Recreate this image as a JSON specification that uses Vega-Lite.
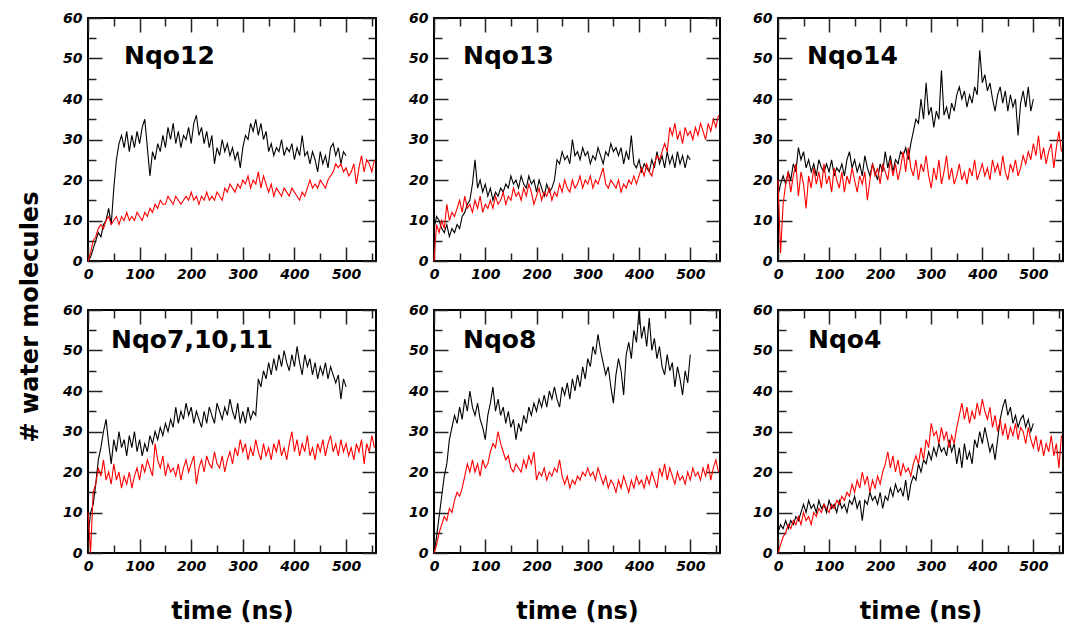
{
"$schema":"https://vega.github.io/schema/vega-lite/v6.json",
"padding":{"left":18,"top":10,"right":5,"bottom":0},
"title":{"text":"# water molecules","orient":"left","anchor":"middle","font":"DejaVu Sans","fontSize":24,"fontWeight":"bold","color":"black","offset":19},
"datasets":{
"b1":[{"t":0,"v":0},{"t":5,"v":1},{"t":10,"v":3},{"t":15,"v":5},{"t":20,"v":7},{"t":25,"v":6},{"t":30,"v":9},{"t":35,"v":10},{"t":40,"v":13},{"t":45,"v":9},
{"t":50,"v":18},{"t":55,"v":25},{"t":60,"v":29},{"t":65,"v":31},{"t":70,"v":28},{"t":75,"v":32},{"t":80,"v":27},{"t":85,"v":31},{"t":90,"v":28},{"t":95,"v":32},
{"t":100,"v":29},{"t":105,"v":33},{"t":110,"v":35},{"t":115,"v":28},{"t":120,"v":21},{"t":125,"v":27},{"t":130,"v":25},{"t":135,"v":29},{"t":140,"v":27},{"t":145,"v":31},
{"t":150,"v":28},{"t":155,"v":33},{"t":160,"v":30},{"t":165,"v":34},{"t":170,"v":29},{"t":175,"v":32},{"t":180,"v":28},{"t":185,"v":31},{"t":190,"v":30},{"t":195,"v":33},
{"t":200,"v":29},{"t":205,"v":34},{"t":210,"v":36},{"t":215,"v":31},{"t":220,"v":33},{"t":225,"v":29},{"t":230,"v":32},{"t":235,"v":28},{"t":240,"v":31},{"t":245,"v":24},
{"t":250,"v":28},{"t":255,"v":26},{"t":260,"v":30},{"t":265,"v":27},{"t":270,"v":29},{"t":275,"v":26},{"t":280,"v":28},{"t":285,"v":25},{"t":290,"v":27},{"t":295,"v":23},
{"t":300,"v":28},{"t":305,"v":31},{"t":310,"v":30},{"t":315,"v":34},{"t":320,"v":32},{"t":325,"v":35},{"t":330,"v":31},{"t":335,"v":34},{"t":340,"v":30},{"t":345,"v":32},
{"t":350,"v":27},{"t":355,"v":29},{"t":360,"v":26},{"t":365,"v":28},{"t":370,"v":27},{"t":375,"v":30},{"t":380,"v":26},{"t":385,"v":28},{"t":390,"v":27},{"t":395,"v":29},
{"t":400,"v":25},{"t":405,"v":28},{"t":410,"v":26},{"t":415,"v":31},{"t":420,"v":26},{"t":425,"v":27},{"t":430,"v":24},{"t":435,"v":27},{"t":440,"v":25},{"t":445,"v":22},
{"t":450,"v":27},{"t":455,"v":24},{"t":460,"v":26},{"t":465,"v":23},{"t":470,"v":28},{"t":475,"v":29},{"t":480,"v":26},{"t":485,"v":28},{"t":490,"v":24},{"t":495,"v":27},
{"t":500,"v":26}],
"r1":[{"t":0,"v":0},{"t":5,"v":2},{"t":10,"v":5},{"t":15,"v":6},{"t":20,"v":8},{"t":25,"v":9},{"t":30,"v":8},{"t":35,"v":10},{"t":40,"v":11},{"t":45,"v":9},
{"t":50,"v":10},{"t":55,"v":11},{"t":60,"v":9},{"t":65,"v":11},{"t":70,"v":10},{"t":75,"v":12},{"t":80,"v":10},{"t":85,"v":11},{"t":90,"v":10},{"t":95,"v":12},
{"t":100,"v":11},{"t":105,"v":10},{"t":110,"v":12},{"t":115,"v":11},{"t":120,"v":13},{"t":125,"v":12},{"t":130,"v":14},{"t":135,"v":13},{"t":140,"v":15},{"t":145,"v":14},
{"t":150,"v":14},{"t":155,"v":16},{"t":160,"v":15},{"t":165,"v":14},{"t":170,"v":16},{"t":175,"v":15},{"t":180,"v":14},{"t":185,"v":15},{"t":190,"v":16},{"t":195,"v":15},
{"t":200,"v":17},{"t":205,"v":15},{"t":210,"v":16},{"t":215,"v":14},{"t":220,"v":16},{"t":225,"v":15},{"t":230,"v":17},{"t":235,"v":15},{"t":240,"v":16},{"t":245,"v":15},
{"t":250,"v":17},{"t":255,"v":16},{"t":260,"v":15},{"t":265,"v":18},{"t":270,"v":17},{"t":275,"v":19},{"t":280,"v":18},{"t":285,"v":17},{"t":290,"v":19},{"t":295,"v":18},
{"t":300,"v":20},{"t":305,"v":19},{"t":310,"v":21},{"t":315,"v":18},{"t":320,"v":20},{"t":325,"v":19},{"t":330,"v":22},{"t":335,"v":18},{"t":340,"v":21},{"t":345,"v":19},
{"t":350,"v":17},{"t":355,"v":19},{"t":360,"v":16},{"t":365,"v":18},{"t":370,"v":17},{"t":375,"v":16},{"t":380,"v":18},{"t":385,"v":17},{"t":390,"v":16},{"t":395,"v":18},
{"t":400,"v":17},{"t":405,"v":16},{"t":410,"v":15},{"t":415,"v":17},{"t":420,"v":16},{"t":425,"v":18},{"t":430,"v":20},{"t":435,"v":18},{"t":440,"v":19},{"t":445,"v":18},
{"t":450,"v":20},{"t":455,"v":19},{"t":460,"v":18},{"t":465,"v":20},{"t":470,"v":21},{"t":475,"v":22},{"t":480,"v":24},{"t":485,"v":23},{"t":490,"v":24},{"t":495,"v":22},
{"t":500,"v":23},{"t":505,"v":21},{"t":510,"v":22},{"t":515,"v":24},{"t":520,"v":19},{"t":525,"v":23},{"t":530,"v":26},{"t":535,"v":22},{"t":540,"v":25},{"t":545,"v":24},
{"t":550,"v":22},{"t":555,"v":25}],
"b2":[{"t":0,"v":8},{"t":5,"v":11},{"t":10,"v":10},{"t":15,"v":8},{"t":20,"v":7},{"t":25,"v":9},{"t":30,"v":6},{"t":35,"v":8},{"t":40,"v":7},{"t":45,"v":9},
{"t":50,"v":8},{"t":55,"v":11},{"t":60,"v":12},{"t":65,"v":14},{"t":70,"v":15},{"t":75,"v":19},{"t":80,"v":25},{"t":85,"v":18},{"t":90,"v":20},{"t":95,"v":17},
{"t":100,"v":19},{"t":105,"v":16},{"t":110,"v":18},{"t":115,"v":15},{"t":120,"v":17},{"t":125,"v":16},{"t":130,"v":18},{"t":135,"v":17},{"t":140,"v":19},{"t":145,"v":18},
{"t":150,"v":21},{"t":155,"v":19},{"t":160,"v":20},{"t":165,"v":18},{"t":170,"v":21},{"t":175,"v":19},{"t":180,"v":18},{"t":185,"v":21},{"t":190,"v":19},{"t":195,"v":20},
{"t":200,"v":17},{"t":205,"v":20},{"t":210,"v":18},{"t":215,"v":16},{"t":220,"v":19},{"t":225,"v":17},{"t":230,"v":18},{"t":235,"v":20},{"t":240,"v":25},{"t":245,"v":24},
{"t":250,"v":27},{"t":255,"v":25},{"t":260,"v":26},{"t":265,"v":24},{"t":270,"v":30},{"t":275,"v":26},{"t":280,"v":27},{"t":285,"v":25},{"t":290,"v":28},{"t":295,"v":26},
{"t":300,"v":27},{"t":305,"v":24},{"t":310,"v":26},{"t":315,"v":25},{"t":320,"v":28},{"t":325,"v":26},{"t":330,"v":24},{"t":335,"v":27},{"t":340,"v":26},{"t":345,"v":29},
{"t":350,"v":27},{"t":355,"v":28},{"t":360,"v":26},{"t":365,"v":28},{"t":370,"v":24},{"t":375,"v":27},{"t":380,"v":25},{"t":385,"v":31},{"t":390,"v":24},{"t":395,"v":23},
{"t":400,"v":25},{"t":405,"v":22},{"t":410,"v":24},{"t":415,"v":23},{"t":420,"v":22},{"t":425,"v":25},{"t":430,"v":23},{"t":435,"v":27},{"t":440,"v":24},{"t":445,"v":26},
{"t":450,"v":23},{"t":455,"v":27},{"t":460,"v":24},{"t":465,"v":26},{"t":470,"v":23},{"t":475,"v":27},{"t":480,"v":24},{"t":485,"v":26},{"t":490,"v":23},{"t":495,"v":26},
{"t":500,"v":25}],
"r2":[{"t":0,"v":0},{"t":5,"v":9},{"t":10,"v":7},{"t":15,"v":10},{"t":20,"v":8},{"t":25,"v":14},{"t":30,"v":10},{"t":35,"v":12},{"t":40,"v":11},{"t":45,"v":13},
{"t":50,"v":15},{"t":55,"v":12},{"t":60,"v":16},{"t":65,"v":13},{"t":70,"v":14},{"t":75,"v":12},{"t":80,"v":15},{"t":85,"v":13},{"t":90,"v":16},{"t":95,"v":12},
{"t":100,"v":14},{"t":105,"v":13},{"t":110,"v":15},{"t":115,"v":13},{"t":120,"v":16},{"t":125,"v":14},{"t":130,"v":15},{"t":135,"v":17},{"t":140,"v":14},{"t":145,"v":16},
{"t":150,"v":15},{"t":155,"v":18},{"t":160,"v":16},{"t":165,"v":17},{"t":170,"v":15},{"t":175,"v":18},{"t":180,"v":16},{"t":185,"v":19},{"t":190,"v":17},{"t":195,"v":14},
{"t":200,"v":16},{"t":205,"v":18},{"t":210,"v":15},{"t":215,"v":17},{"t":220,"v":16},{"t":225,"v":18},{"t":230,"v":15},{"t":235,"v":17},{"t":240,"v":16},{"t":245,"v":19},
{"t":250,"v":17},{"t":255,"v":20},{"t":260,"v":18},{"t":265,"v":17},{"t":270,"v":20},{"t":275,"v":18},{"t":280,"v":19},{"t":285,"v":21},{"t":290,"v":18},{"t":295,"v":20},
{"t":300,"v":19},{"t":305,"v":21},{"t":310,"v":18},{"t":315,"v":20},{"t":320,"v":19},{"t":325,"v":21},{"t":330,"v":23},{"t":335,"v":19},{"t":340,"v":18},{"t":345,"v":20},
{"t":350,"v":19},{"t":355,"v":18},{"t":360,"v":20},{"t":365,"v":17},{"t":370,"v":19},{"t":375,"v":18},{"t":380,"v":20},{"t":385,"v":19},{"t":390,"v":21},{"t":395,"v":19},
{"t":400,"v":21},{"t":405,"v":23},{"t":410,"v":21},{"t":415,"v":24},{"t":420,"v":22},{"t":425,"v":21},{"t":430,"v":24},{"t":435,"v":26},{"t":440,"v":25},{"t":445,"v":27},
{"t":450,"v":29},{"t":455,"v":27},{"t":460,"v":33},{"t":465,"v":31},{"t":470,"v":34},{"t":475,"v":30},{"t":480,"v":32},{"t":485,"v":29},{"t":490,"v":33},{"t":495,"v":31},
{"t":500,"v":32},{"t":505,"v":30},{"t":510,"v":33},{"t":515,"v":31},{"t":520,"v":34},{"t":525,"v":32},{"t":530,"v":30},{"t":535,"v":34},{"t":540,"v":32},{"t":545,"v":35},
{"t":550,"v":33},{"t":555,"v":36}],
"b3":[{"t":0,"v":16},{"t":5,"v":19},{"t":10,"v":21},{"t":15,"v":19},{"t":20,"v":22},{"t":25,"v":20},{"t":30,"v":24},{"t":35,"v":22},{"t":40,"v":28},{"t":45,"v":25},
{"t":50,"v":27},{"t":55,"v":23},{"t":60,"v":25},{"t":65,"v":22},{"t":70,"v":24},{"t":75,"v":21},{"t":80,"v":25},{"t":85,"v":23},{"t":90,"v":22},{"t":95,"v":24},
{"t":100,"v":22},{"t":105,"v":25},{"t":110,"v":21},{"t":115,"v":23},{"t":120,"v":22},{"t":125,"v":24},{"t":130,"v":21},{"t":135,"v":25},{"t":140,"v":27},{"t":145,"v":23},
{"t":150,"v":25},{"t":155,"v":22},{"t":160,"v":24},{"t":165,"v":21},{"t":170,"v":26},{"t":175,"v":23},{"t":180,"v":21},{"t":185,"v":24},{"t":190,"v":22},{"t":195,"v":20},
{"t":200,"v":24},{"t":205,"v":22},{"t":210,"v":27},{"t":215,"v":23},{"t":220,"v":26},{"t":225,"v":22},{"t":230,"v":25},{"t":235,"v":24},{"t":240,"v":27},{"t":245,"v":26},
{"t":250,"v":28},{"t":255,"v":25},{"t":260,"v":29},{"t":265,"v":32},{"t":270,"v":35},{"t":275,"v":34},{"t":280,"v":40},{"t":285,"v":35},{"t":290,"v":44},{"t":295,"v":36},
{"t":300,"v":38},{"t":305,"v":33},{"t":310,"v":37},{"t":315,"v":35},{"t":320,"v":47},{"t":325,"v":36},{"t":330,"v":38},{"t":335,"v":35},{"t":340,"v":39},{"t":345,"v":37},
{"t":350,"v":41},{"t":355,"v":43},{"t":360,"v":40},{"t":365,"v":42},{"t":370,"v":38},{"t":375,"v":41},{"t":380,"v":39},{"t":385,"v":43},{"t":390,"v":41},{"t":395,"v":52},
{"t":400,"v":44},{"t":405,"v":46},{"t":410,"v":42},{"t":415,"v":44},{"t":420,"v":40},{"t":425,"v":37},{"t":430,"v":41},{"t":435,"v":43},{"t":440,"v":39},{"t":445,"v":42},
{"t":450,"v":37},{"t":455,"v":41},{"t":460,"v":38},{"t":465,"v":40},{"t":470,"v":31},{"t":475,"v":39},{"t":480,"v":42},{"t":485,"v":38},{"t":490,"v":43},{"t":495,"v":37},
{"t":500,"v":40}],
"r3":[{"t":0,"v":20},{"t":5,"v":2},{"t":10,"v":14},{"t":15,"v":19},{"t":20,"v":22},{"t":25,"v":17},{"t":30,"v":21},{"t":35,"v":24},{"t":40,"v":16},{"t":45,"v":22},
{"t":50,"v":19},{"t":55,"v":13},{"t":60,"v":21},{"t":65,"v":18},{"t":70,"v":23},{"t":75,"v":19},{"t":80,"v":22},{"t":85,"v":18},{"t":90,"v":24},{"t":95,"v":19},
{"t":100,"v":21},{"t":105,"v":17},{"t":110,"v":23},{"t":115,"v":20},{"t":120,"v":18},{"t":125,"v":22},{"t":130,"v":17},{"t":135,"v":21},{"t":140,"v":19},{"t":145,"v":23},
{"t":150,"v":20},{"t":155,"v":17},{"t":160,"v":21},{"t":165,"v":19},{"t":170,"v":22},{"t":175,"v":15},{"t":180,"v":20},{"t":185,"v":24},{"t":190,"v":21},{"t":195,"v":23},
{"t":200,"v":19},{"t":205,"v":24},{"t":210,"v":22},{"t":215,"v":20},{"t":220,"v":25},{"t":225,"v":21},{"t":230,"v":24},{"t":235,"v":20},{"t":240,"v":23},{"t":245,"v":27},
{"t":250,"v":22},{"t":255,"v":28},{"t":260,"v":23},{"t":265,"v":21},{"t":270,"v":25},{"t":275,"v":20},{"t":280,"v":24},{"t":285,"v":22},{"t":290,"v":26},{"t":295,"v":21},
{"t":300,"v":18},{"t":305,"v":23},{"t":310,"v":20},{"t":315,"v":25},{"t":320,"v":19},{"t":325,"v":22},{"t":330,"v":26},{"t":335,"v":20},{"t":340,"v":23},{"t":345,"v":19},
{"t":350,"v":21},{"t":355,"v":24},{"t":360,"v":20},{"t":365,"v":22},{"t":370,"v":19},{"t":375,"v":23},{"t":380,"v":21},{"t":385,"v":25},{"t":390,"v":20},{"t":395,"v":22},
{"t":400,"v":24},{"t":405,"v":21},{"t":410,"v":23},{"t":415,"v":20},{"t":420,"v":25},{"t":425,"v":22},{"t":430,"v":24},{"t":435,"v":21},{"t":440,"v":26},{"t":445,"v":22},
{"t":450,"v":20},{"t":455,"v":24},{"t":460,"v":22},{"t":465,"v":25},{"t":470,"v":21},{"t":475,"v":23},{"t":480,"v":26},{"t":485,"v":24},{"t":490,"v":27},{"t":495,"v":25},
{"t":500,"v":29},{"t":505,"v":26},{"t":510,"v":31},{"t":515,"v":25},{"t":520,"v":28},{"t":525,"v":24},{"t":530,"v":27},{"t":535,"v":29},{"t":540,"v":23},{"t":545,"v":28},
{"t":550,"v":32},{"t":555,"v":27}],
"b4":[{"t":0,"v":4},{"t":5,"v":10},{"t":10,"v":12},{"t":15,"v":17},{"t":20,"v":23},{"t":25,"v":26},{"t":30,"v":30},{"t":35,"v":33},{"t":40,"v":27},{"t":45,"v":22},
{"t":50,"v":28},{"t":55,"v":25},{"t":60,"v":30},{"t":65,"v":26},{"t":70,"v":28},{"t":75,"v":24},{"t":80,"v":29},{"t":85,"v":26},{"t":90,"v":30},{"t":95,"v":25},
{"t":100,"v":28},{"t":105,"v":24},{"t":110,"v":27},{"t":115,"v":25},{"t":120,"v":29},{"t":125,"v":27},{"t":130,"v":30},{"t":135,"v":28},{"t":140,"v":31},{"t":145,"v":29},
{"t":150,"v":32},{"t":155,"v":30},{"t":160,"v":33},{"t":165,"v":31},{"t":170,"v":36},{"t":175,"v":32},{"t":180,"v":35},{"t":185,"v":33},{"t":190,"v":37},{"t":195,"v":34},
{"t":200,"v":36},{"t":205,"v":32},{"t":210,"v":35},{"t":215,"v":33},{"t":220,"v":31},{"t":225,"v":35},{"t":230,"v":32},{"t":235,"v":36},{"t":240,"v":34},{"t":245,"v":32},
{"t":250,"v":37},{"t":255,"v":35},{"t":260,"v":33},{"t":265,"v":36},{"t":270,"v":34},{"t":275,"v":38},{"t":280,"v":35},{"t":285,"v":33},{"t":290,"v":37},{"t":295,"v":32},
{"t":300,"v":35},{"t":305,"v":32},{"t":310,"v":36},{"t":315,"v":33},{"t":320,"v":35},{"t":325,"v":34},{"t":330,"v":43},{"t":335,"v":41},{"t":340,"v":45},{"t":345,"v":43},
{"t":350,"v":47},{"t":355,"v":44},{"t":360,"v":48},{"t":365,"v":45},{"t":370,"v":49},{"t":375,"v":46},{"t":380,"v":50},{"t":385,"v":47},{"t":390,"v":45},{"t":395,"v":49},
{"t":400,"v":46},{"t":405,"v":51},{"t":410,"v":47},{"t":415,"v":44},{"t":420,"v":49},{"t":425,"v":46},{"t":430,"v":48},{"t":435,"v":44},{"t":440,"v":47},{"t":445,"v":43},
{"t":450,"v":46},{"t":455,"v":44},{"t":460,"v":47},{"t":465,"v":43},{"t":470,"v":46},{"t":475,"v":44},{"t":480,"v":42},{"t":485,"v":44},{"t":490,"v":38},{"t":495,"v":43},
{"t":500,"v":41}],
"r4":[{"t":0,"v":10},{"t":5,"v":0},{"t":10,"v":15},{"t":15,"v":17},{"t":20,"v":21},{"t":25,"v":19},{"t":30,"v":23},{"t":35,"v":18},{"t":40,"v":20},{"t":45,"v":17},
{"t":50,"v":22},{"t":55,"v":18},{"t":60,"v":20},{"t":65,"v":16},{"t":70,"v":19},{"t":75,"v":17},{"t":80,"v":20},{"t":85,"v":16},{"t":90,"v":19},{"t":95,"v":21},
{"t":100,"v":18},{"t":105,"v":22},{"t":110,"v":20},{"t":115,"v":23},{"t":120,"v":21},{"t":125,"v":19},{"t":130,"v":27},{"t":135,"v":23},{"t":140,"v":21},{"t":145,"v":24},
{"t":150,"v":19},{"t":155,"v":22},{"t":160,"v":20},{"t":165,"v":21},{"t":170,"v":19},{"t":175,"v":22},{"t":180,"v":18},{"t":185,"v":21},{"t":190,"v":23},{"t":195,"v":20},
{"t":200,"v":22},{"t":205,"v":24},{"t":210,"v":17},{"t":215,"v":21},{"t":220,"v":23},{"t":225,"v":20},{"t":230,"v":24},{"t":235,"v":22},{"t":240,"v":21},{"t":245,"v":25},
{"t":250,"v":22},{"t":255,"v":21},{"t":260,"v":24},{"t":265,"v":20},{"t":270,"v":23},{"t":275,"v":25},{"t":280,"v":22},{"t":285,"v":26},{"t":290,"v":24},{"t":295,"v":28},
{"t":300,"v":25},{"t":305,"v":27},{"t":310,"v":23},{"t":315,"v":26},{"t":320,"v":24},{"t":325,"v":28},{"t":330,"v":25},{"t":335,"v":23},{"t":340,"v":27},{"t":345,"v":24},
{"t":350,"v":26},{"t":355,"v":23},{"t":360,"v":27},{"t":365,"v":25},{"t":370,"v":28},{"t":375,"v":24},{"t":380,"v":26},{"t":385,"v":23},{"t":390,"v":27},{"t":395,"v":30},
{"t":400,"v":25},{"t":405,"v":28},{"t":410,"v":24},{"t":415,"v":27},{"t":420,"v":25},{"t":425,"v":29},{"t":430,"v":24},{"t":435,"v":26},{"t":440,"v":23},{"t":445,"v":27},
{"t":450,"v":25},{"t":455,"v":28},{"t":460,"v":24},{"t":465,"v":27},{"t":470,"v":29},{"t":475,"v":25},{"t":480,"v":27},{"t":485,"v":24},{"t":490,"v":28},{"t":495,"v":25},
{"t":500,"v":27},{"t":505,"v":24},{"t":510,"v":26},{"t":515,"v":23},{"t":520,"v":27},{"t":525,"v":25},{"t":530,"v":28},{"t":535,"v":22},{"t":540,"v":27},{"t":545,"v":25},
{"t":550,"v":29},{"t":555,"v":26}],
"b5":[{"t":0,"v":0},{"t":5,"v":4},{"t":10,"v":9},{"t":15,"v":14},{"t":20,"v":19},{"t":25,"v":22},{"t":30,"v":28},{"t":35,"v":31},{"t":40,"v":34},{"t":45,"v":32},
{"t":50,"v":36},{"t":55,"v":33},{"t":60,"v":38},{"t":65,"v":35},{"t":70,"v":40},{"t":75,"v":36},{"t":80,"v":34},{"t":85,"v":37},{"t":90,"v":33},{"t":95,"v":31},
{"t":100,"v":28},{"t":105,"v":34},{"t":110,"v":37},{"t":115,"v":41},{"t":120,"v":35},{"t":125,"v":38},{"t":130,"v":34},{"t":135,"v":36},{"t":140,"v":32},{"t":145,"v":35},
{"t":150,"v":31},{"t":155,"v":33},{"t":160,"v":28},{"t":165,"v":32},{"t":170,"v":30},{"t":175,"v":34},{"t":180,"v":32},{"t":185,"v":36},{"t":190,"v":34},{"t":195,"v":37},
{"t":200,"v":35},{"t":205,"v":38},{"t":210,"v":36},{"t":215,"v":39},{"t":220,"v":36},{"t":225,"v":40},{"t":230,"v":38},{"t":235,"v":41},{"t":240,"v":38},{"t":245,"v":36},
{"t":250,"v":41},{"t":255,"v":39},{"t":260,"v":42},{"t":265,"v":38},{"t":270,"v":43},{"t":275,"v":40},{"t":280,"v":44},{"t":285,"v":41},{"t":290,"v":46},{"t":295,"v":43},
{"t":300,"v":48},{"t":305,"v":46},{"t":310,"v":51},{"t":315,"v":49},{"t":320,"v":54},{"t":325,"v":50},{"t":330,"v":47},{"t":335,"v":44},{"t":340,"v":46},{"t":345,"v":41},
{"t":350,"v":37},{"t":355,"v":44},{"t":360,"v":48},{"t":365,"v":45},{"t":370,"v":39},{"t":375,"v":49},{"t":380,"v":52},{"t":385,"v":48},{"t":390,"v":55},{"t":395,"v":52},
{"t":400,"v":60},{"t":405,"v":53},{"t":410,"v":56},{"t":415,"v":51},{"t":420,"v":58},{"t":425,"v":50},{"t":430,"v":53},{"t":435,"v":48},{"t":440,"v":51},{"t":445,"v":46},
{"t":450,"v":44},{"t":455,"v":49},{"t":460,"v":45},{"t":465,"v":47},{"t":470,"v":41},{"t":475,"v":46},{"t":480,"v":43},{"t":485,"v":39},{"t":490,"v":45},{"t":495,"v":42},
{"t":500,"v":49}],
"r5":[{"t":0,"v":0},{"t":5,"v":2},{"t":10,"v":5},{"t":15,"v":7},{"t":20,"v":9},{"t":25,"v":8},{"t":30,"v":11},{"t":35,"v":10},{"t":40,"v":13},{"t":45,"v":15},
{"t":50,"v":14},{"t":55,"v":16},{"t":60,"v":19},{"t":65,"v":22},{"t":70,"v":20},{"t":75,"v":23},{"t":80,"v":20},{"t":85,"v":22},{"t":90,"v":19},{"t":95,"v":23},
{"t":100,"v":21},{"t":105,"v":22},{"t":110,"v":25},{"t":115,"v":27},{"t":120,"v":26},{"t":125,"v":30},{"t":130,"v":27},{"t":135,"v":25},{"t":140,"v":23},{"t":145,"v":24},
{"t":150,"v":21},{"t":155,"v":20},{"t":160,"v":22},{"t":165,"v":21},{"t":170,"v":20},{"t":175,"v":23},{"t":180,"v":21},{"t":185,"v":24},{"t":190,"v":22},{"t":195,"v":25},
{"t":200,"v":18},{"t":205,"v":20},{"t":210,"v":19},{"t":215,"v":21},{"t":220,"v":18},{"t":225,"v":20},{"t":230,"v":19},{"t":235,"v":21},{"t":240,"v":20},{"t":245,"v":23},
{"t":250,"v":19},{"t":255,"v":17},{"t":260,"v":19},{"t":265,"v":16},{"t":270,"v":18},{"t":275,"v":17},{"t":280,"v":19},{"t":285,"v":18},{"t":290,"v":20},{"t":295,"v":19},
{"t":300,"v":21},{"t":305,"v":19},{"t":310,"v":20},{"t":315,"v":18},{"t":320,"v":21},{"t":325,"v":19},{"t":330,"v":17},{"t":335,"v":19},{"t":340,"v":16},{"t":345,"v":18},
{"t":350,"v":17},{"t":355,"v":15},{"t":360,"v":18},{"t":365,"v":16},{"t":370,"v":19},{"t":375,"v":17},{"t":380,"v":15},{"t":385,"v":18},{"t":390,"v":16},{"t":395,"v":19},
{"t":400,"v":17},{"t":405,"v":18},{"t":410,"v":16},{"t":415,"v":19},{"t":420,"v":17},{"t":425,"v":20},{"t":430,"v":18},{"t":435,"v":16},{"t":440,"v":21},{"t":445,"v":19},
{"t":450,"v":22},{"t":455,"v":18},{"t":460,"v":21},{"t":465,"v":19},{"t":470,"v":17},{"t":475,"v":20},{"t":480,"v":18},{"t":485,"v":19},{"t":490,"v":17},{"t":495,"v":20},
{"t":500,"v":18},{"t":505,"v":21},{"t":510,"v":19},{"t":515,"v":20},{"t":520,"v":18},{"t":525,"v":21},{"t":530,"v":19},{"t":535,"v":22},{"t":540,"v":18},{"t":545,"v":21},
{"t":550,"v":23},{"t":555,"v":20}],
"b6":[{"t":0,"v":5},{"t":5,"v":7},{"t":10,"v":6},{"t":15,"v":8},{"t":20,"v":6},{"t":25,"v":8},{"t":30,"v":7},{"t":35,"v":9},{"t":40,"v":8},{"t":45,"v":10},
{"t":50,"v":12},{"t":55,"v":10},{"t":60,"v":13},{"t":65,"v":11},{"t":70,"v":12},{"t":75,"v":10},{"t":80,"v":13},{"t":85,"v":11},{"t":90,"v":12},{"t":95,"v":10},
{"t":100,"v":13},{"t":105,"v":11},{"t":110,"v":12},{"t":115,"v":10},{"t":120,"v":13},{"t":125,"v":11},{"t":130,"v":12},{"t":135,"v":10},{"t":140,"v":13},{"t":145,"v":12},
{"t":150,"v":14},{"t":155,"v":11},{"t":160,"v":13},{"t":165,"v":8},{"t":170,"v":13},{"t":175,"v":12},{"t":180,"v":15},{"t":185,"v":13},{"t":190,"v":14},{"t":195,"v":12},
{"t":200,"v":15},{"t":205,"v":11},{"t":210,"v":14},{"t":215,"v":13},{"t":220,"v":16},{"t":225,"v":14},{"t":230,"v":17},{"t":235,"v":15},{"t":240,"v":16},{"t":245,"v":14},
{"t":250,"v":18},{"t":255,"v":13},{"t":260,"v":17},{"t":265,"v":19},{"t":270,"v":18},{"t":275,"v":22},{"t":280,"v":20},{"t":285,"v":23},{"t":290,"v":22},{"t":295,"v":25},
{"t":300,"v":23},{"t":305,"v":26},{"t":310,"v":24},{"t":315,"v":27},{"t":320,"v":25},{"t":325,"v":26},{"t":330,"v":24},{"t":335,"v":28},{"t":340,"v":25},{"t":345,"v":27},
{"t":350,"v":22},{"t":355,"v":26},{"t":360,"v":21},{"t":365,"v":27},{"t":370,"v":23},{"t":375,"v":25},{"t":380,"v":22},{"t":385,"v":28},{"t":390,"v":26},{"t":395,"v":30},
{"t":400,"v":27},{"t":405,"v":31},{"t":410,"v":28},{"t":415,"v":25},{"t":420,"v":27},{"t":425,"v":23},{"t":430,"v":28},{"t":435,"v":33},{"t":440,"v":36},{"t":445,"v":38},
{"t":450,"v":34},{"t":455,"v":36},{"t":460,"v":32},{"t":465,"v":34},{"t":470,"v":31},{"t":475,"v":33},{"t":480,"v":34},{"t":485,"v":31},{"t":490,"v":33},{"t":495,"v":30},
{"t":500,"v":32}],
"r6":[{"t":0,"v":0},{"t":5,"v":2},{"t":10,"v":4},{"t":15,"v":5},{"t":20,"v":7},{"t":25,"v":6},{"t":30,"v":8},{"t":35,"v":7},{"t":40,"v":9},{"t":45,"v":7},
{"t":50,"v":10},{"t":55,"v":8},{"t":60,"v":9},{"t":65,"v":7},{"t":70,"v":10},{"t":75,"v":9},{"t":80,"v":11},{"t":85,"v":10},{"t":90,"v":12},{"t":95,"v":11},
{"t":100,"v":10},{"t":105,"v":12},{"t":110,"v":11},{"t":115,"v":13},{"t":120,"v":12},{"t":125,"v":14},{"t":130,"v":13},{"t":135,"v":15},{"t":140,"v":14},{"t":145,"v":17},
{"t":150,"v":15},{"t":155,"v":18},{"t":160,"v":16},{"t":165,"v":20},{"t":170,"v":17},{"t":175,"v":19},{"t":180,"v":15},{"t":185,"v":18},{"t":190,"v":16},{"t":195,"v":19},
{"t":200,"v":17},{"t":205,"v":20},{"t":210,"v":22},{"t":215,"v":25},{"t":220,"v":21},{"t":225,"v":24},{"t":230,"v":20},{"t":235,"v":23},{"t":240,"v":19},{"t":245,"v":22},
{"t":250,"v":20},{"t":255,"v":21},{"t":260,"v":19},{"t":265,"v":22},{"t":270,"v":24},{"t":275,"v":22},{"t":280,"v":26},{"t":285,"v":23},{"t":290,"v":28},{"t":295,"v":26},
{"t":300,"v":32},{"t":305,"v":29},{"t":310,"v":30},{"t":315,"v":27},{"t":320,"v":31},{"t":325,"v":28},{"t":330,"v":30},{"t":335,"v":26},{"t":340,"v":29},{"t":345,"v":27},
{"t":350,"v":31},{"t":355,"v":34},{"t":360,"v":37},{"t":365,"v":33},{"t":370,"v":36},{"t":375,"v":32},{"t":380,"v":35},{"t":385,"v":33},{"t":390,"v":37},{"t":395,"v":34},
{"t":400,"v":38},{"t":405,"v":35},{"t":410,"v":33},{"t":415,"v":36},{"t":420,"v":31},{"t":425,"v":34},{"t":430,"v":30},{"t":435,"v":33},{"t":440,"v":29},{"t":445,"v":32},
{"t":450,"v":28},{"t":455,"v":31},{"t":460,"v":29},{"t":465,"v":32},{"t":470,"v":28},{"t":475,"v":31},{"t":480,"v":30},{"t":485,"v":27},{"t":490,"v":31},{"t":495,"v":28},
{"t":500,"v":26},{"t":505,"v":29},{"t":510,"v":25},{"t":515,"v":28},{"t":520,"v":24},{"t":525,"v":27},{"t":530,"v":25},{"t":535,"v":29},{"t":540,"v":24},{"t":545,"v":27},
{"t":550,"v":21},{"t":555,"v":29}]
},
"spacing":20,
"vconcat":[
{"spacing":29,"hconcat":[
{"width":288,"height":243,
"title":{"text":"Nqo12","anchor":"start","frame":"group","offset":0,"baseline":"alphabetic","dx":36,"dy":78,"font":"DejaVu Sans","fontSize":25,"fontWeight":"bold","color":"black"},
"layer":[
{"data":{"name":"b1"},"mark":{"type":"line","color":"black","strokeWidth":1.1},
"encoding":{"x":{"field":"t","type":"quantitative","scale":{"domain":[0,558],"nice":false},"axis":{"orient":"bottom","values":[0,100,200,300,400,500],"tickSize":-14,"title":null}},
"y":{"field":"v","type":"quantitative","scale":{"domain":[0,60],"nice":false},"axis":{"orient":"left","values":[0,10,20,30,40,50,60],"tickSize":-14,"title":null}}}},
{"data":{"name":"r1"},"mark":{"type":"line","color":"#ff0000","strokeWidth":1.1},
"encoding":{"x":{"field":"t","type":"quantitative","scale":{"domain":[0,558],"nice":false},"axis":{"orient":"top","values":[0,100,200,300,400,500],"labels":false,"tickSize":-14,"title":null}},
"y":{"field":"v","type":"quantitative","scale":{"domain":[0,60],"nice":false},"axis":{"orient":"right","values":[0,10,20,30,40,50,60],"labels":false,"tickSize":-14,"title":null}}}},
{"data":{"name":"b1"},"mark":{"type":"line","opacity":0},
"encoding":{"x":{"field":"t","type":"quantitative","scale":{"domain":[0,558],"nice":false},"axis":{"orient":"bottom","values":[50,150,250,350,450,550],"labels":false,"tickSize":-8,"title":null}},
"y":{"field":"v","type":"quantitative","scale":{"domain":[0,60],"nice":false},"axis":{"orient":"left","values":[5,15,25,35,45,55],"labels":false,"tickSize":-8,"title":null}}}},
{"data":{"name":"r1"},"mark":{"type":"line","opacity":0},
"encoding":{"x":{"field":"t","type":"quantitative","scale":{"domain":[0,558],"nice":false},"axis":{"orient":"top","values":[50,150,250,350,450,550],"labels":false,"tickSize":-8,"title":null}},
"y":{"field":"v","type":"quantitative","scale":{"domain":[0,60],"nice":false},"axis":{"orient":"right","values":[5,15,25,35,45,55],"labels":false,"tickSize":-8,"title":null}}}}
],
"resolve":{"axis":{"x":"independent","y":"independent"}}},
{"width":286,"height":243,
"title":{"text":"Nqo13","anchor":"start","frame":"group","offset":0,"baseline":"alphabetic","dx":29,"dy":78,"font":"DejaVu Sans","fontSize":25,"fontWeight":"bold","color":"black"},
"layer":[
{"data":{"name":"b2"},"mark":{"type":"line","color":"black","strokeWidth":1.1},
"encoding":{"x":{"field":"t","type":"quantitative","scale":{"domain":[0,558],"nice":false},"axis":{"orient":"bottom","values":[0,100,200,300,400,500],"tickSize":-14,"title":null}},
"y":{"field":"v","type":"quantitative","scale":{"domain":[0,60],"nice":false},"axis":{"orient":"left","values":[0,10,20,30,40,50,60],"tickSize":-14,"title":null}}}},
{"data":{"name":"r2"},"mark":{"type":"line","color":"#ff0000","strokeWidth":1.1},
"encoding":{"x":{"field":"t","type":"quantitative","scale":{"domain":[0,558],"nice":false},"axis":{"orient":"top","values":[0,100,200,300,400,500],"labels":false,"tickSize":-14,"title":null}},
"y":{"field":"v","type":"quantitative","scale":{"domain":[0,60],"nice":false},"axis":{"orient":"right","values":[0,10,20,30,40,50,60],"labels":false,"tickSize":-14,"title":null}}}},
{"data":{"name":"b2"},"mark":{"type":"line","opacity":0},
"encoding":{"x":{"field":"t","type":"quantitative","scale":{"domain":[0,558],"nice":false},"axis":{"orient":"bottom","values":[50,150,250,350,450,550],"labels":false,"tickSize":-8,"title":null}},
"y":{"field":"v","type":"quantitative","scale":{"domain":[0,60],"nice":false},"axis":{"orient":"left","values":[5,15,25,35,45,55],"labels":false,"tickSize":-8,"title":null}}}},
{"data":{"name":"r2"},"mark":{"type":"line","opacity":0},
"encoding":{"x":{"field":"t","type":"quantitative","scale":{"domain":[0,558],"nice":false},"axis":{"orient":"top","values":[50,150,250,350,450,550],"labels":false,"tickSize":-8,"title":null}},
"y":{"field":"v","type":"quantitative","scale":{"domain":[0,60],"nice":false},"axis":{"orient":"right","values":[5,15,25,35,45,55],"labels":false,"tickSize":-8,"title":null}}}}
],
"resolve":{"axis":{"x":"independent","y":"independent"}}},
{"width":285,"height":243,
"title":{"text":"Nqo14","anchor":"start","frame":"group","offset":0,"baseline":"alphabetic","dx":29,"dy":78,"font":"DejaVu Sans","fontSize":25,"fontWeight":"bold","color":"black"},
"layer":[
{"data":{"name":"b3"},"mark":{"type":"line","color":"black","strokeWidth":1.1},
"encoding":{"x":{"field":"t","type":"quantitative","scale":{"domain":[0,558],"nice":false},"axis":{"orient":"bottom","values":[0,100,200,300,400,500],"tickSize":-14,"title":null}},
"y":{"field":"v","type":"quantitative","scale":{"domain":[0,60],"nice":false},"axis":{"orient":"left","values":[0,10,20,30,40,50,60],"tickSize":-14,"title":null}}}},
{"data":{"name":"r3"},"mark":{"type":"line","color":"#ff0000","strokeWidth":1.1},
"encoding":{"x":{"field":"t","type":"quantitative","scale":{"domain":[0,558],"nice":false},"axis":{"orient":"top","values":[0,100,200,300,400,500],"labels":false,"tickSize":-14,"title":null}},
"y":{"field":"v","type":"quantitative","scale":{"domain":[0,60],"nice":false},"axis":{"orient":"right","values":[0,10,20,30,40,50,60],"labels":false,"tickSize":-14,"title":null}}}},
{"data":{"name":"b3"},"mark":{"type":"line","opacity":0},
"encoding":{"x":{"field":"t","type":"quantitative","scale":{"domain":[0,558],"nice":false},"axis":{"orient":"bottom","values":[50,150,250,350,450,550],"labels":false,"tickSize":-8,"title":null}},
"y":{"field":"v","type":"quantitative","scale":{"domain":[0,60],"nice":false},"axis":{"orient":"left","values":[5,15,25,35,45,55],"labels":false,"tickSize":-8,"title":null}}}},
{"data":{"name":"r3"},"mark":{"type":"line","opacity":0},
"encoding":{"x":{"field":"t","type":"quantitative","scale":{"domain":[0,558],"nice":false},"axis":{"orient":"top","values":[50,150,250,350,450,550],"labels":false,"tickSize":-8,"title":null}},
"y":{"field":"v","type":"quantitative","scale":{"domain":[0,60],"nice":false},"axis":{"orient":"right","values":[5,15,25,35,45,55],"labels":false,"tickSize":-8,"title":null}}}}
],
"resolve":{"axis":{"x":"independent","y":"independent"}}}
]},
{"spacing":29,"hconcat":[
{"width":288,"height":243,
"title":{"text":"Nqo7,10,11","anchor":"start","frame":"group","offset":0,"baseline":"alphabetic","dx":23,"dy":70,"font":"DejaVu Sans","fontSize":25,"fontWeight":"bold","color":"black"},
"layer":[
{"data":{"name":"b4"},"mark":{"type":"line","color":"black","strokeWidth":1.1},
"encoding":{"x":{"field":"t","type":"quantitative","scale":{"domain":[0,558],"nice":false},"axis":{"orient":"bottom","values":[0,100,200,300,400,500],"tickSize":-14,"title":"time (ns)"}},
"y":{"field":"v","type":"quantitative","scale":{"domain":[0,60],"nice":false},"axis":{"orient":"left","values":[0,10,20,30,40,50,60],"tickSize":-14,"title":null}}}},
{"data":{"name":"r4"},"mark":{"type":"line","color":"#ff0000","strokeWidth":1.1},
"encoding":{"x":{"field":"t","type":"quantitative","scale":{"domain":[0,558],"nice":false},"axis":{"orient":"top","values":[0,100,200,300,400,500],"labels":false,"tickSize":-14,"title":null}},
"y":{"field":"v","type":"quantitative","scale":{"domain":[0,60],"nice":false},"axis":{"orient":"right","values":[0,10,20,30,40,50,60],"labels":false,"tickSize":-14,"title":null}}}},
{"data":{"name":"b4"},"mark":{"type":"line","opacity":0},
"encoding":{"x":{"field":"t","type":"quantitative","scale":{"domain":[0,558],"nice":false},"axis":{"orient":"bottom","values":[50,150,250,350,450,550],"labels":false,"tickSize":-8,"title":null}},
"y":{"field":"v","type":"quantitative","scale":{"domain":[0,60],"nice":false},"axis":{"orient":"left","values":[5,15,25,35,45,55],"labels":false,"tickSize":-8,"title":null}}}},
{"data":{"name":"r4"},"mark":{"type":"line","opacity":0},
"encoding":{"x":{"field":"t","type":"quantitative","scale":{"domain":[0,558],"nice":false},"axis":{"orient":"top","values":[50,150,250,350,450,550],"labels":false,"tickSize":-8,"title":null}},
"y":{"field":"v","type":"quantitative","scale":{"domain":[0,60],"nice":false},"axis":{"orient":"right","values":[5,15,25,35,45,55],"labels":false,"tickSize":-8,"title":null}}}}
],
"resolve":{"axis":{"x":"independent","y":"independent"}}},
{"width":286,"height":243,
"title":{"text":"Nqo8","anchor":"start","frame":"group","offset":0,"baseline":"alphabetic","dx":29,"dy":70,"font":"DejaVu Sans","fontSize":25,"fontWeight":"bold","color":"black"},
"layer":[
{"data":{"name":"b5"},"mark":{"type":"line","color":"black","strokeWidth":1.1},
"encoding":{"x":{"field":"t","type":"quantitative","scale":{"domain":[0,558],"nice":false},"axis":{"orient":"bottom","values":[0,100,200,300,400,500],"tickSize":-14,"title":"time (ns)"}},
"y":{"field":"v","type":"quantitative","scale":{"domain":[0,60],"nice":false},"axis":{"orient":"left","values":[0,10,20,30,40,50,60],"tickSize":-14,"title":null}}}},
{"data":{"name":"r5"},"mark":{"type":"line","color":"#ff0000","strokeWidth":1.1},
"encoding":{"x":{"field":"t","type":"quantitative","scale":{"domain":[0,558],"nice":false},"axis":{"orient":"top","values":[0,100,200,300,400,500],"labels":false,"tickSize":-14,"title":null}},
"y":{"field":"v","type":"quantitative","scale":{"domain":[0,60],"nice":false},"axis":{"orient":"right","values":[0,10,20,30,40,50,60],"labels":false,"tickSize":-14,"title":null}}}},
{"data":{"name":"b5"},"mark":{"type":"line","opacity":0},
"encoding":{"x":{"field":"t","type":"quantitative","scale":{"domain":[0,558],"nice":false},"axis":{"orient":"bottom","values":[50,150,250,350,450,550],"labels":false,"tickSize":-8,"title":null}},
"y":{"field":"v","type":"quantitative","scale":{"domain":[0,60],"nice":false},"axis":{"orient":"left","values":[5,15,25,35,45,55],"labels":false,"tickSize":-8,"title":null}}}},
{"data":{"name":"r5"},"mark":{"type":"line","opacity":0},
"encoding":{"x":{"field":"t","type":"quantitative","scale":{"domain":[0,558],"nice":false},"axis":{"orient":"top","values":[50,150,250,350,450,550],"labels":false,"tickSize":-8,"title":null}},
"y":{"field":"v","type":"quantitative","scale":{"domain":[0,60],"nice":false},"axis":{"orient":"right","values":[5,15,25,35,45,55],"labels":false,"tickSize":-8,"title":null}}}}
],
"resolve":{"axis":{"x":"independent","y":"independent"}}},
{"width":285,"height":243,
"title":{"text":"Nqo4","anchor":"start","frame":"group","offset":0,"baseline":"alphabetic","dx":30,"dy":70,"font":"DejaVu Sans","fontSize":25,"fontWeight":"bold","color":"black"},
"layer":[
{"data":{"name":"b6"},"mark":{"type":"line","color":"black","strokeWidth":1.1},
"encoding":{"x":{"field":"t","type":"quantitative","scale":{"domain":[0,558],"nice":false},"axis":{"orient":"bottom","values":[0,100,200,300,400,500],"tickSize":-14,"title":"time (ns)"}},
"y":{"field":"v","type":"quantitative","scale":{"domain":[0,60],"nice":false},"axis":{"orient":"left","values":[0,10,20,30,40,50,60],"tickSize":-14,"title":null}}}},
{"data":{"name":"r6"},"mark":{"type":"line","color":"#ff0000","strokeWidth":1.1},
"encoding":{"x":{"field":"t","type":"quantitative","scale":{"domain":[0,558],"nice":false},"axis":{"orient":"top","values":[0,100,200,300,400,500],"labels":false,"tickSize":-14,"title":null}},
"y":{"field":"v","type":"quantitative","scale":{"domain":[0,60],"nice":false},"axis":{"orient":"right","values":[0,10,20,30,40,50,60],"labels":false,"tickSize":-14,"title":null}}}},
{"data":{"name":"b6"},"mark":{"type":"line","opacity":0},
"encoding":{"x":{"field":"t","type":"quantitative","scale":{"domain":[0,558],"nice":false},"axis":{"orient":"bottom","values":[50,150,250,350,450,550],"labels":false,"tickSize":-8,"title":null}},
"y":{"field":"v","type":"quantitative","scale":{"domain":[0,60],"nice":false},"axis":{"orient":"left","values":[5,15,25,35,45,55],"labels":false,"tickSize":-8,"title":null}}}},
{"data":{"name":"r6"},"mark":{"type":"line","opacity":0},
"encoding":{"x":{"field":"t","type":"quantitative","scale":{"domain":[0,558],"nice":false},"axis":{"orient":"top","values":[50,150,250,350,450,550],"labels":false,"tickSize":-8,"title":null}},
"y":{"field":"v","type":"quantitative","scale":{"domain":[0,60],"nice":false},"axis":{"orient":"right","values":[5,15,25,35,45,55],"labels":false,"tickSize":-8,"title":null}}}}
],
"resolve":{"axis":{"x":"independent","y":"independent"}}}
]}
],
"config":{
"view":{"stroke":"black","strokeWidth":2},
"axis":{"grid":false,"domain":false,"ticks":true,"tickColor":"#222222","tickWidth":1.5,"tickOpacity":1,"labelFont":"DejaVu Sans","labelFontSize":14,"labelFontWeight":"bold","labelFontStyle":"italic","labelColor":"black","labelPadding":20,"labelFlush":false,"labelOverlap":false,"titleFont":"DejaVu Sans","titleFontSize":24,"titleFontWeight":"bold","titleColor":"black","titlePadding":26}
}
}
